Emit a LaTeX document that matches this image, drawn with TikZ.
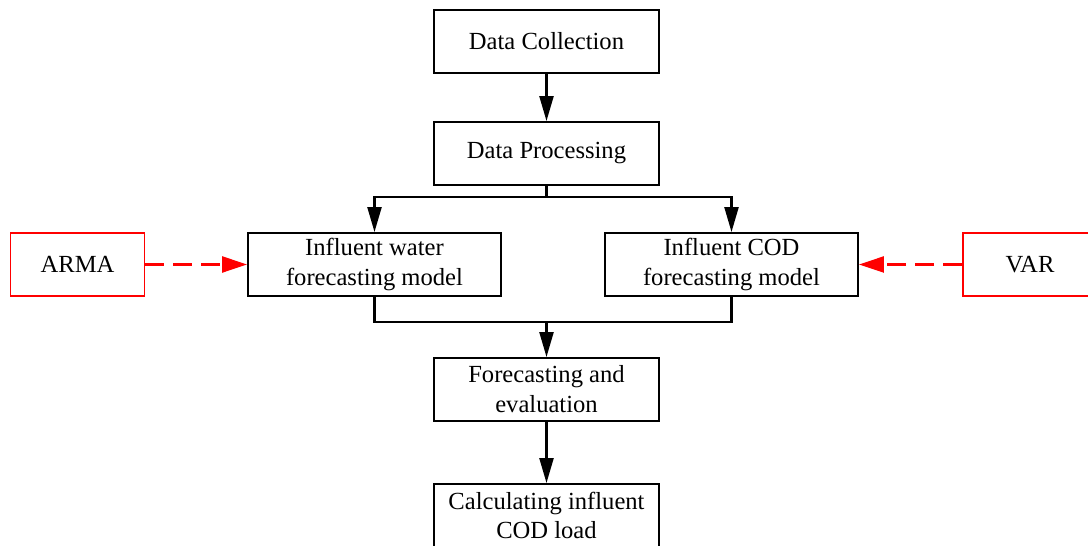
\documentclass[tikz,border=0pt]{standalone}
\usepackage{fontspec}
\setmainfont{Liberation Serif}
\usetikzlibrary{arrows.meta}
\begin{document}
\begin{tikzpicture}[
  x=0.02cm, y=-0.02cm, line width=1.1pt,
  stepbox/.style={draw, line width=1.1pt, minimum height=1.26cm, minimum width=4.5cm,
                  inner sep=0pt, align=center, font=\fontsize{14pt}{17pt}\selectfont},
  modelbox/.style={stepbox, minimum width=5.06cm},
  methbox/.style={draw=red, line width=1.1pt, minimum height=1.26cm, minimum width=2.68cm,
                  inner sep=0pt, align=center, font=\fontsize{14pt}{17pt}\selectfont},
  conn/.style={line width=1.3pt},
  flow/.style={-{Triangle[length=0.5cm, width=0.28cm]}, line width=1.3pt},
  feed/.style={-{Triangle[length=0.5cm, width=0.32cm]}, line width=1.3pt, red,
               dash pattern=on 0.38cm off 0.18cm},
]
\clip (0,0) rectangle (1088,546);
\useasboundingbox (0,0) rectangle (1088,546);

% Main chain
\node[stepbox] (coll) at (546.5,41.5) {Data Collection};
\node[stepbox] (proc) at (546.5,153.5) {Data Processing};
\draw[flow] (coll) -- (proc);

% Two forecasting models
\node[modelbox] (water) at (374.5,264.5) {Influent water\\forecasting model};
\node[modelbox] (cod) at (731.5,264.5) {Influent COD\\forecasting model};

% Split from Data Processing
\coordinate (brP) at (546.5,197);
\draw[conn] (proc.south) -- (brP);
\draw[flow] (brP) -| (water.north);
\draw[flow] (brP) -| (cod.north);

% Methods feeding the models
\node[methbox] (arma) at (77.5,264.5) {ARMA};
\node[methbox] (var) at (1030,264.5) {VAR};
\draw[feed] (arma) -- (water);
\draw[feed] (var) -- (cod);

% Merge into evaluation
\node[stepbox] (eval) at (546.5,389.5) {Forecasting and\\evaluation};
\coordinate (brM) at (546.5,322);
\draw[conn] (water.south) |- (brM) -| (cod.south);
\draw[flow] (brM) -- (eval.north);

% Final step
\node[stepbox] (calc) at (546.5,515.5) {Calculating influent\\COD load};
\draw[flow] (eval) -- (calc);

\end{tikzpicture}
\end{document}
